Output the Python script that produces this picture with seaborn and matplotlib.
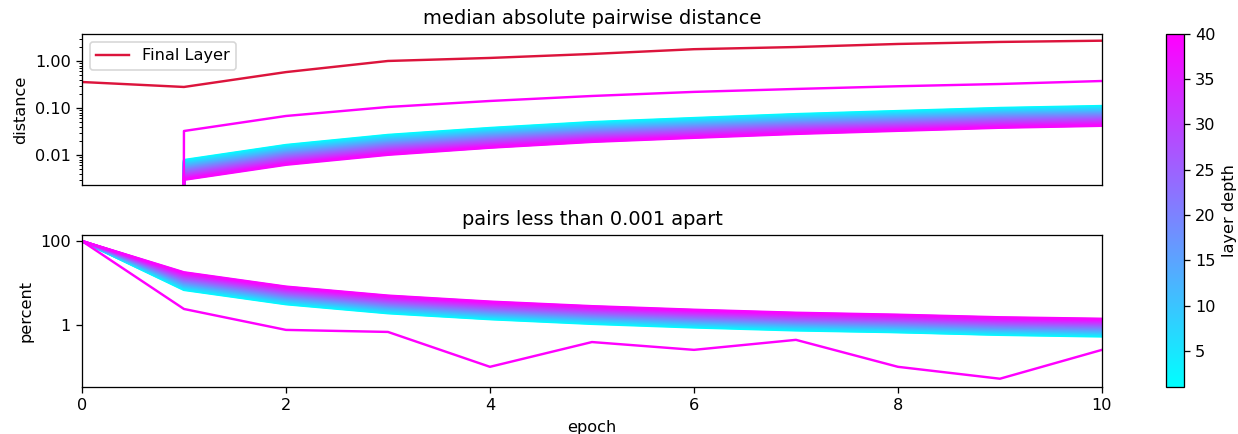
import matplotlib
matplotlib.use("Agg")
import matplotlib.pyplot as plt
import numpy as np
import pandas as pd
import seaborn as sns
from matplotlib.cm import ScalarMappable
from matplotlib.colors import Normalize
from matplotlib.ticker import FuncFormatter, NullLocator

# ---------------------------------------------------------------- data
epochs = list(range(11))
layer_depths = list(range(1, 41))
colorbar_ticks = [5, 10, 15, 20, 25, 30, 35, 40]

final_layer_distance = [0.357, 0.28, 0.58, 1.0, 1.16, 1.41, 1.78, 1.98, 2.3, 2.54, 2.70]

# median absolute pairwise distance, one row per layer (depth 1 .. 40)
median_distance = [
    [0, 0.00780, 0.0163, 0.0267, 0.0375, 0.0500, 0.0610, 0.0740, 0.0860, 0.1000, 0.1100],
    [0, 0.00760, 0.0159, 0.0260, 0.0366, 0.0487, 0.0595, 0.0721, 0.0838, 0.0975, 0.1072],
    [0, 0.00741, 0.0155, 0.0254, 0.0356, 0.0475, 0.0580, 0.0703, 0.0817, 0.0950, 0.1045],
    [0, 0.00723, 0.0151, 0.0247, 0.0347, 0.0463, 0.0565, 0.0686, 0.0797, 0.0927, 0.1019],
    [0, 0.00704, 0.0147, 0.0241, 0.0339, 0.0452, 0.0551, 0.0668, 0.0777, 0.0903, 0.0994],
    [0, 0.00687, 0.0144, 0.0235, 0.0330, 0.0440, 0.0537, 0.0652, 0.0757, 0.0881, 0.0969],
    [0, 0.00670, 0.0140, 0.0229, 0.0322, 0.0429, 0.0524, 0.0635, 0.0738, 0.0859, 0.0944],
    [0, 0.00653, 0.0136, 0.0223, 0.0314, 0.0418, 0.0511, 0.0619, 0.0720, 0.0837, 0.0921],
    [0, 0.00636, 0.0133, 0.0218, 0.0306, 0.0408, 0.0498, 0.0604, 0.0702, 0.0816, 0.0898],
    [0, 0.00620, 0.0130, 0.0212, 0.0298, 0.0398, 0.0485, 0.0588, 0.0684, 0.0795, 0.0875],
    [0, 0.00605, 0.0126, 0.0207, 0.0291, 0.0388, 0.0473, 0.0574, 0.0667, 0.0776, 0.0853],
    [0, 0.00590, 0.0123, 0.0202, 0.0284, 0.0378, 0.0461, 0.0559, 0.0650, 0.0756, 0.0832],
    [0, 0.00575, 0.0120, 0.0197, 0.0276, 0.0369, 0.0450, 0.0545, 0.0634, 0.0737, 0.0811],
    [0, 0.00560, 0.0117, 0.0192, 0.0269, 0.0359, 0.0438, 0.0532, 0.0618, 0.0719, 0.0790],
    [0, 0.00546, 0.0114, 0.0187, 0.0263, 0.0350, 0.0427, 0.0518, 0.0602, 0.0700, 0.0771],
    [0, 0.00533, 0.0111, 0.0182, 0.0256, 0.0341, 0.0417, 0.0505, 0.0587, 0.0683, 0.0751],
    [0, 0.00519, 0.0109, 0.0178, 0.0250, 0.0333, 0.0406, 0.0493, 0.0573, 0.0666, 0.0732],
    [0, 0.00506, 0.0106, 0.0173, 0.0243, 0.0325, 0.0396, 0.0480, 0.0558, 0.0649, 0.0714],
    [0, 0.00494, 0.0103, 0.0169, 0.0237, 0.0316, 0.0386, 0.0468, 0.0544, 0.0633, 0.0696],
    [0, 0.00481, 0.0101, 0.0165, 0.0231, 0.0308, 0.0376, 0.0456, 0.0530, 0.0617, 0.0678],
    [0, 0.00469, 0.0098, 0.0160, 0.0225, 0.0301, 0.0367, 0.0445, 0.0517, 0.0601, 0.0661],
    [0, 0.00457, 0.0096, 0.0156, 0.0220, 0.0293, 0.0358, 0.0434, 0.0504, 0.0586, 0.0645],
    [0, 0.00446, 0.0093, 0.0153, 0.0214, 0.0286, 0.0349, 0.0423, 0.0491, 0.0571, 0.0629],
    [0, 0.00434, 0.0091, 0.0149, 0.0209, 0.0279, 0.0340, 0.0412, 0.0479, 0.0557, 0.0613],
    [0, 0.00424, 0.0089, 0.0145, 0.0204, 0.0272, 0.0331, 0.0402, 0.0467, 0.0543, 0.0597],
    [0, 0.00413, 0.0086, 0.0141, 0.0199, 0.0265, 0.0323, 0.0392, 0.0455, 0.0529, 0.0582],
    [0, 0.00403, 0.0084, 0.0138, 0.0194, 0.0258, 0.0315, 0.0382, 0.0444, 0.0516, 0.0568],
    [0, 0.00392, 0.0082, 0.0134, 0.0189, 0.0252, 0.0307, 0.0372, 0.0433, 0.0503, 0.0553],
    [0, 0.00383, 0.0080, 0.0131, 0.0184, 0.0245, 0.0299, 0.0363, 0.0422, 0.0491, 0.0540],
    [0, 0.00373, 0.0078, 0.0128, 0.0179, 0.0239, 0.0292, 0.0354, 0.0411, 0.0478, 0.0526],
    [0, 0.00364, 0.0076, 0.0124, 0.0175, 0.0233, 0.0284, 0.0345, 0.0401, 0.0466, 0.0513],
    [0, 0.00355, 0.0074, 0.0121, 0.0170, 0.0227, 0.0277, 0.0336, 0.0391, 0.0455, 0.0500],
    [0, 0.00346, 0.0072, 0.0118, 0.0166, 0.0222, 0.0270, 0.0328, 0.0381, 0.0443, 0.0487],
    [0, 0.00337, 0.0070, 0.0115, 0.0162, 0.0216, 0.0263, 0.0320, 0.0371, 0.0432, 0.0475],
    [0, 0.00328, 0.0069, 0.0112, 0.0158, 0.0211, 0.0257, 0.0312, 0.0362, 0.0421, 0.0463],
    [0, 0.00320, 0.0067, 0.0110, 0.0154, 0.0205, 0.0250, 0.0304, 0.0353, 0.0411, 0.0452],
    [0, 0.00312, 0.0065, 0.0107, 0.0150, 0.0200, 0.0244, 0.0296, 0.0344, 0.0400, 0.0440],
    [0, 0.00304, 0.0064, 0.0104, 0.0146, 0.0195, 0.0238, 0.0289, 0.0335, 0.0390, 0.0429],
    [0, 0.00297, 0.0062, 0.0101, 0.0143, 0.0190, 0.0232, 0.0281, 0.0327, 0.0380, 0.0418],
    [0, 0.0324, 0.0676, 0.105, 0.141, 0.180, 0.220, 0.254, 0.290, 0.324, 0.375],
]

# percentage of pairs closer than 0.001, one row per layer (depth 1 .. 40)
pct_close = [
    [100, 6.84, 3.12, 1.90, 1.37, 1.06, 0.87, 0.74, 0.67, 0.58, 0.53],
    [100, 7.02, 3.20, 1.95, 1.40, 1.09, 0.90, 0.76, 0.68, 0.59, 0.55],
    [100, 7.20, 3.28, 2.00, 1.44, 1.12, 0.92, 0.78, 0.70, 0.61, 0.56],
    [100, 7.39, 3.37, 2.05, 1.48, 1.15, 0.94, 0.80, 0.72, 0.62, 0.57],
    [100, 7.58, 3.45, 2.11, 1.52, 1.18, 0.97, 0.82, 0.74, 0.64, 0.59],
    [100, 7.77, 3.54, 2.16, 1.56, 1.21, 0.99, 0.84, 0.76, 0.66, 0.60],
    [100, 7.97, 3.63, 2.22, 1.59, 1.24, 1.02, 0.86, 0.78, 0.67, 0.62],
    [100, 8.18, 3.73, 2.27, 1.64, 1.27, 1.05, 0.89, 0.80, 0.69, 0.64],
    [100, 8.39, 3.82, 2.33, 1.68, 1.31, 1.07, 0.91, 0.82, 0.71, 0.65],
    [100, 8.61, 3.92, 2.39, 1.72, 1.34, 1.10, 0.93, 0.84, 0.73, 0.67],
    [100, 8.83, 4.02, 2.45, 1.77, 1.37, 1.13, 0.96, 0.86, 0.75, 0.69],
    [100, 9.06, 4.13, 2.52, 1.81, 1.41, 1.16, 0.98, 0.88, 0.76, 0.70],
    [100, 9.29, 4.23, 2.58, 1.86, 1.44, 1.19, 1.01, 0.90, 0.78, 0.72],
    [100, 9.53, 4.34, 2.65, 1.91, 1.48, 1.22, 1.03, 0.93, 0.80, 0.74],
    [100, 9.77, 4.45, 2.72, 1.95, 1.52, 1.25, 1.06, 0.95, 0.83, 0.76],
    [100, 10.03, 4.57, 2.79, 2.01, 1.56, 1.28, 1.09, 0.97, 0.85, 0.78],
    [100, 10.29, 4.69, 2.86, 2.06, 1.60, 1.31, 1.11, 1.00, 0.87, 0.80],
    [100, 10.55, 4.81, 2.93, 2.11, 1.64, 1.35, 1.14, 1.03, 0.89, 0.82],
    [100, 10.82, 4.93, 3.01, 2.16, 1.68, 1.38, 1.17, 1.05, 0.91, 0.84],
    [100, 11.10, 5.06, 3.08, 2.22, 1.73, 1.42, 1.20, 1.08, 0.94, 0.86],
    [100, 11.39, 5.19, 3.16, 2.28, 1.77, 1.46, 1.23, 1.11, 0.96, 0.89],
    [100, 11.68, 5.32, 3.25, 2.34, 1.82, 1.49, 1.27, 1.14, 0.99, 0.91],
    [100, 11.98, 5.46, 3.33, 2.40, 1.86, 1.53, 1.30, 1.165, 1.01, 0.93],
    [100, 12.29, 5.60, 3.42, 2.46, 1.91, 1.57, 1.33, 1.20, 1.04, 0.96],
    [100, 12.61, 5.74, 3.50, 2.52, 1.96, 1.61, 1.37, 1.23, 1.06, 0.98],
    [100, 12.93, 5.89, 3.59, 2.59, 2.01, 1.65, 1.40, 1.26, 1.09, 1.01],
    [100, 13.27, 6.04, 3.69, 2.65, 2.06, 1.70, 1.44, 1.29, 1.12, 1.03],
    [100, 13.61, 6.20, 3.78, 2.72, 2.12, 1.74, 1.47, 1.32, 1.15, 1.06],
    [100, 13.96, 6.36, 3.88, 2.79, 2.17, 1.78, 1.51, 1.36, 1.18, 1.09],
    [100, 14.31, 6.52, 3.98, 2.86, 2.23, 1.83, 1.55, 1.39, 1.21, 1.11],
    [100, 14.69, 6.69, 4.08, 2.94, 2.28, 1.88, 1.59, 1.43, 1.24, 1.14],
    [100, 15.07, 6.86, 4.19, 3.01, 2.34, 1.93, 1.63, 1.46, 1.27, 1.17],
    [100, 15.45, 7.04, 4.29, 3.09, 2.40, 1.97, 1.67, 1.50, 1.30, 1.20],
    [100, 15.85, 7.22, 4.40, 3.17, 2.47, 2.03, 1.72, 1.54, 1.34, 1.23],
    [100, 16.25, 7.40, 4.52, 3.25, 2.53, 2.08, 1.76, 1.58, 1.37, 1.26],
    [100, 16.70, 7.60, 4.63, 3.34, 2.59, 2.13, 1.81, 1.62, 1.41, 1.30],
    [100, 17.10, 7.79, 4.75, 3.42, 2.66, 2.19, 1.85, 1.66, 1.44, 1.33],
    [100, 17.55, 8.00, 4.88, 3.51, 2.73, 2.24, 1.90, 1.71, 1.48, 1.365],
    [100, 18.00, 8.20, 5.00, 3.60, 2.80, 2.30, 1.95, 1.75, 1.52, 1.40],
    [100, 2.40, 0.76, 0.68, 0.10, 0.39, 0.254, 0.44, 0.10, 0.052, 0.254],
]


def to_long(table):
    rows = [(depth, ep, val)
            for depth, series in zip(layer_depths, table)
            for ep, val in zip(epochs, series)]
    return pd.DataFrame(rows, columns=["layer", "epoch", "value"])


dist_df = to_long(median_distance)
pct_df = to_long(pct_close)

# ---------------------------------------------------------------- figure
DPI = 116
fig = plt.figure(figsize=(1238 / DPI, 434 / DPI), dpi=DPI)
ax_dist = fig.add_axes([0.0662, 0.5737, 0.8239, 0.348])
ax_pct = fig.add_axes([0.0662, 0.1083, 0.8239, 0.350], sharex=ax_dist)
cax = fig.add_axes([0.9418, 0.1083, 0.0145, 0.8134])

cmap = "cool"
norm = (1, 40)

# top panel: median pairwise distance per layer
sns.lineplot(data=dist_df, x="epoch", y="value", hue="layer", palette=cmap,
             hue_norm=norm, estimator=None, legend=False, linewidth=1.5, ax=ax_dist)
sns.lineplot(x=epochs, y=final_layer_distance, color="crimson",
             label="Final Layer", linewidth=1.5, ax=ax_dist)
ax_dist.set_yscale("log")
ax_dist.set_ylim(0.0023, 3.75)
ax_dist.yaxis.set_major_formatter(FuncFormatter(lambda v, _: f"{v:.2f}"))
ax_dist.set_ylabel("distance")
ax_dist.set_xlabel("")
ax_dist.set_title("median absolute pairwise distance")
ax_dist.legend(loc="upper left")
ax_dist.tick_params(axis="x", bottom=False, labelbottom=False)

# bottom panel: share of near-identical pairs
sns.lineplot(data=pct_df, x="epoch", y="value", hue="layer", palette=cmap,
             hue_norm=norm, estimator=None, legend=False, linewidth=1.5, ax=ax_pct)
ax_pct.set_yscale("log")
ax_pct.set_ylim(0.033, 139)
ax_pct.set_yticks([1, 100], labels=["1", "100"])
ax_pct.yaxis.set_minor_locator(NullLocator())
ax_pct.set_ylabel("percent")
ax_pct.set_xlabel("epoch")
ax_pct.set_title("pairs less than 0.001 apart")
ax_pct.set_xlim(0, 10)
ax_pct.set_xticks([0, 2, 4, 6, 8, 10])

# colour scale for layer depth
sm = ScalarMappable(norm=Normalize(*norm), cmap=cmap)
cbar = fig.colorbar(sm, cax=cax)
cbar.set_ticks(colorbar_ticks)
cbar.set_label("layer depth")

fig.savefig("out.png", dpi=DPI)
